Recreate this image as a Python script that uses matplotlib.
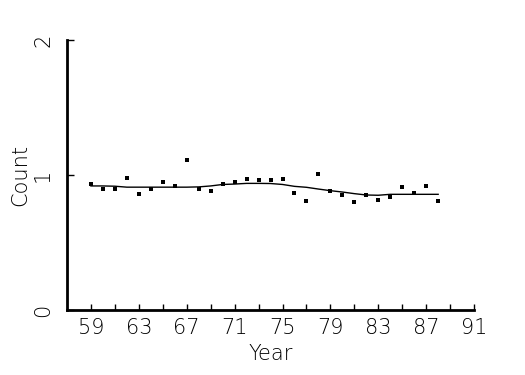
import matplotlib
matplotlib.use("Agg")
import matplotlib.pyplot as plt

years = list(range(59, 89))
counts = [0.931, 0.896, 0.896, 0.978, 0.859, 0.899, 0.948, 0.919, 1.111, 0.896,
          0.879, 0.933, 0.948, 0.968, 0.960, 0.960, 0.970, 0.867, 0.805, 1.007,
          0.879, 0.850, 0.797, 0.850, 0.817, 0.835, 0.909, 0.867, 0.919, 0.805]
smooth = [0.919, 0.919, 0.917, 0.910, 0.910, 0.910, 0.910, 0.910, 0.910, 0.912,
          0.919, 0.930, 0.933, 0.938, 0.938, 0.937, 0.930, 0.916, 0.909, 0.896,
          0.884, 0.874, 0.862, 0.852, 0.850, 0.857, 0.857, 0.857, 0.857, 0.857]
xticks = list(range(59, 92, 2))
xlabels = [str(t) if (t - 59) % 4 == 0 else "" for t in xticks]
yticks = [0, 1, 2]

plt.rcParams['font.family'] = ['DejaVu Sans']
fig = plt.figure(figsize=(5.25, 3.75), dpi=100)
ax = fig.add_axes([0.1276, 0.1733, 0.7754, 0.72])
ax.plot(years, smooth, color='black', lw=1.0)
ax.plot(years, counts, 's', color='black', ms=2.5, mew=0)
ax.set_xlim(57, 91)
ax.set_ylim(0, 2)
ax.set_xticks(xticks)
ax.set_xticklabels(xlabels)
ax.set_yticks(yticks)
ax.set_yticklabels([str(v) for v in yticks], rotation=90, va='center')
for s in ['top', 'right']:
    ax.spines[s].set_visible(False)
for s in ['left', 'bottom']:
    ax.spines[s].set_linewidth(2)
ax.tick_params(axis='x', direction='in', length=4, width=1, labelsize=15, pad=6)
ax.tick_params(axis='y', direction='in', length=5, width=1, labelsize=15, pad=10)
for lab in ax.get_xticklabels() + ax.get_yticklabels():
    lab.set_fontweight('light')
ax.set_xlabel('Year', fontsize=15, fontweight='light', labelpad=4)
ax.set_ylabel('Count', fontsize=15, fontweight='light', labelpad=2)
fig.savefig('out.png', dpi=100)
